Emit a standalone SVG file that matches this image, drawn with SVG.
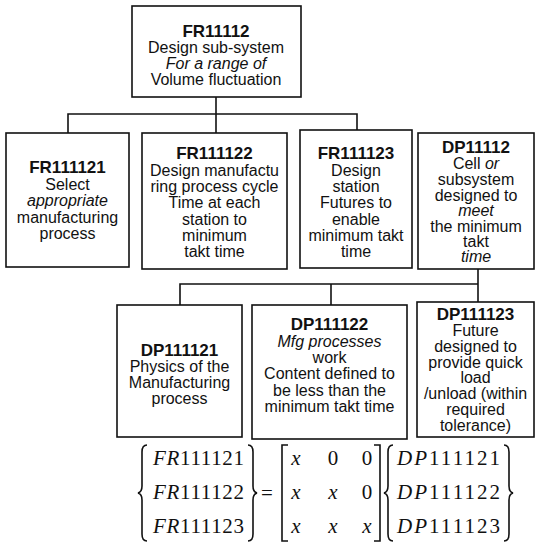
<svg xmlns="http://www.w3.org/2000/svg" width="537" height="547" viewBox="0 0 537 547">
  <style>
    .box { fill: #ffffff; stroke: #111111; stroke-width: 1.6; }
    .wire { fill: none; stroke: #111111; stroke-width: 1.6; }
    .t { font-family: "Liberation Sans", Arial, sans-serif; font-size: 16px; fill: #111111; text-anchor: middle; }
    .b { font-weight: bold; font-size: 17px; }
    .i { font-style: italic; }
    .eq { font-family: "Liberation Serif", "Times New Roman", serif; font-size: 21px; fill: #111111; }
    .delim { fill: none; stroke: #111111; stroke-width: 1.6; }
  </style>
  <rect width="537" height="547" fill="#ffffff"/>

  <!-- tree connectors -->
  <g id="connectors">
    <path class="wire" d="M216,97 V133"/>
    <path class="wire" d="M68,133 V114 H357 V130"/>
    <path class="wire" d="M478,269 V305"/>
    <path class="wire" d="M180,305 V284 H478"/>
    <path class="wire" d="M331,284 V305"/>
  </g>

  <!-- level 1 -->
  <g id="FR11112">
    <rect class="box" x="132" y="6" width="169" height="91"/>
    <text class="t b" x="216" y="37">FR11112</text>
    <text class="t" x="216" y="53">Design sub-system</text>
    <text class="t i" x="216" y="69">For a range of</text>
    <text class="t" x="216" y="85">Volume fluctuation</text>
  </g>

  <!-- level 2 -->
  <g id="FR111121">
    <rect class="box" x="6" y="133" width="123" height="134"/>
    <text class="t b" x="67.5" y="173">FR111121</text>
    <text class="t" x="67.5" y="190">Select</text>
    <text class="t i" x="67.5" y="206">appropriate</text>
    <text class="t" x="67.5" y="223">manufacturing</text>
    <text class="t" x="67.5" y="239">process</text>
  </g>

  <g id="FR111122">
    <rect class="box" x="142" y="133" width="145" height="136"/>
    <text class="t b" x="214.5" y="159">FR111122</text>
    <text class="t" x="214.5" y="176">Design manufactu</text>
    <text class="t" x="214.5" y="192">ring process cycle</text>
    <text class="t" x="214.5" y="208">Time at each</text>
    <text class="t" x="214.5" y="225">station to</text>
    <text class="t" x="214.5" y="241">minimum</text>
    <text class="t" x="214.5" y="257">takt time</text>
  </g>

  <g id="FR111123">
    <rect class="box" x="300" y="130" width="112" height="138"/>
    <text class="t b" x="356" y="159">FR111123</text>
    <text class="t" x="356" y="176">Design</text>
    <text class="t" x="356" y="192">station</text>
    <text class="t" x="356" y="208">Futures to</text>
    <text class="t" x="356" y="225">enable</text>
    <text class="t" x="356" y="241">minimum takt</text>
    <text class="t" x="356" y="257">time</text>
  </g>

  <g id="DP11112">
    <rect class="box" x="418" y="133" width="116" height="136"/>
    <text class="t b" x="476" y="153">DP11112</text>
    <text class="t" x="476" y="169">Cell <tspan class="i">or</tspan></text>
    <text class="t" x="476" y="185">subsystem</text>
    <text class="t" x="476" y="201">designed to</text>
    <text class="t i" x="476" y="216">meet</text>
    <text class="t" x="476" y="232">the minimum</text>
    <text class="t" x="476" y="247">takt</text>
    <text class="t i" x="476" y="262">time</text>
  </g>

  <!-- level 3 -->
  <g id="DP111121">
    <rect class="box" x="117" y="305" width="125" height="132"/>
    <text class="t b" x="179.5" y="356">DP111121</text>
    <text class="t" x="179.5" y="372">Physics of the</text>
    <text class="t" x="179.5" y="388">Manufacturing</text>
    <text class="t" x="179.5" y="404">process</text>
  </g>

  <g id="DP111122">
    <rect class="box" x="252" y="305" width="155" height="134"/>
    <text class="t b" x="329.5" y="330">DP111122</text>
    <text class="t i" x="329.5" y="347">Mfg processes</text>
    <text class="t" x="329.5" y="363">work</text>
    <text class="t" x="329.5" y="379">Content defined to</text>
    <text class="t" x="329.5" y="396">be less than the</text>
    <text class="t" x="329.5" y="412">minimum takt time</text>
  </g>

  <g id="DP111123">
    <rect class="box" x="417" y="302" width="117" height="135"/>
    <text class="t b" x="475.5" y="320">DP111123</text>
    <text class="t" x="475.5" y="336">Future</text>
    <text class="t" x="475.5" y="352">designed to</text>
    <text class="t" x="475.5" y="368">provide quick</text>
    <text class="t" x="475.5" y="383">load</text>
    <text class="t" x="475.5" y="399">/unload (within</text>
    <text class="t" x="475.5" y="415">required</text>
    <text class="t" x="475.5" y="431">tolerance)</text>
  </g>

  <!-- design matrix equation -->
  <g id="equation">
    <!-- FR vector braces -->
    <path class="delim" d="M147,445 Q142,445 142,452 V486 Q142,492 138,493 Q142,494 142,500 V534 Q142,541 147,541"/>
    <path class="delim" d="M248,445 Q253,445 253,452 V486 Q253,492 257,493 Q253,494 253,500 V534 Q253,541 248,541"/>
    <text class="eq" x="153" y="465" textLength="91" lengthAdjust="spacing"><tspan font-style="italic">FR</tspan>111121</text>
    <text class="eq" x="153" y="499" textLength="91" lengthAdjust="spacing"><tspan font-style="italic">FR</tspan>111122</text>
    <text class="eq" x="153" y="533" textLength="91" lengthAdjust="spacing"><tspan font-style="italic">FR</tspan>111123</text>

    <text class="eq" x="261" y="500">=</text>

    <!-- matrix brackets -->
    <path class="delim" d="M288,445 H282 V541 H288"/>
    <path class="delim" d="M374,445 H380 V541 H374"/>
    <text class="eq" x="296" y="465" text-anchor="middle" font-style="italic">x</text>
    <text class="eq" x="333" y="465" text-anchor="middle">0</text>
    <text class="eq" x="367" y="465" text-anchor="middle">0</text>
    <text class="eq" x="296" y="499" text-anchor="middle" font-style="italic">x</text>
    <text class="eq" x="333" y="499" text-anchor="middle" font-style="italic">x</text>
    <text class="eq" x="367" y="499" text-anchor="middle">0</text>
    <text class="eq" x="296" y="533" text-anchor="middle" font-style="italic">x</text>
    <text class="eq" x="333" y="533" text-anchor="middle" font-style="italic">x</text>
    <text class="eq" x="367" y="533" text-anchor="middle" font-style="italic">x</text>

    <!-- DP vector braces -->
    <path class="delim" d="M393,445 Q388,445 388,452 V486 Q388,492 384,493 Q388,494 388,500 V534 Q388,541 393,541"/>
    <path class="delim" d="M504,445 Q509,445 509,452 V486 Q509,492 513,493 Q509,494 509,500 V534 Q509,541 504,541"/>
    <text class="eq" x="397" y="465" textLength="103" lengthAdjust="spacing"><tspan font-style="italic">DP</tspan>111121</text>
    <text class="eq" x="397" y="499" textLength="103" lengthAdjust="spacing"><tspan font-style="italic">DP</tspan>111122</text>
    <text class="eq" x="397" y="533" textLength="103" lengthAdjust="spacing"><tspan font-style="italic">DP</tspan>111123</text>
  </g>
</svg>
